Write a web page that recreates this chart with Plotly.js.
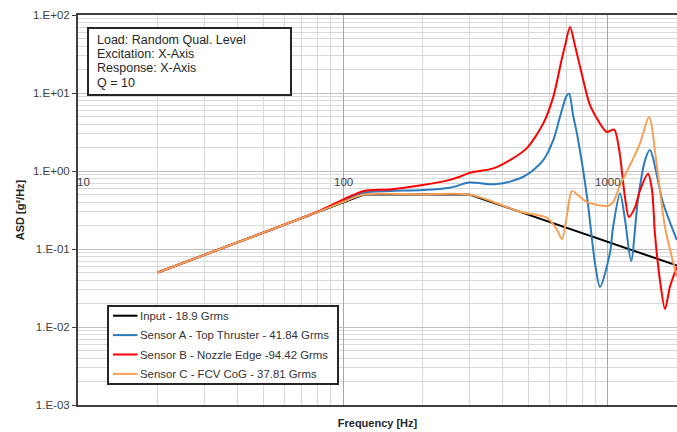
<!DOCTYPE html>
<html>
<head>
<meta charset="utf-8">
<script src="https://cdn.plot.ly/plotly-3.0.1.min.js"></script>
<style>
  html, body { margin: 0; padding: 0; background: #ffffff; }
  #chart { width: 677px; height: 432px; }
</style>
</head>
<body>
<div id="chart"></div>
<script>
// ---- data ----
const inputFreq = [20, 120, 300, 2000];
const inputAsd  = [0.05, 0.5, 0.5, 0.055];

const sensorAFreq = [20, 50, 80, 100, 120, 150, 200, 253, 300, 369, 427, 493, 570, 622, 659, 699, 714, 738, 764, 834, 893, 933, 1017, 1045, 1110, 1160, 1222, 1297, 1380, 1439, 1614, 1820];
const sensorAAsd  = [0.05, 0.162, 0.297, 0.41, 0.53, 0.555, 0.57, 0.61, 0.71, 0.675, 0.73, 0.89, 1.38, 2.5, 4.97, 9.3, 9.8, 5.2, 3.0, 0.46, 0.066, 0.0326, 0.089, 0.19, 0.52, 0.235, 0.070, 0.425, 1.38, 1.86, 0.389, 0.13];

const sensorBFreq = [20, 50, 80, 100, 120, 150, 200, 253, 276, 301, 369, 427, 493, 570, 622, 668, 689, 719, 750, 798, 855, 957, 991, 1055, 1101, 1159, 1199, 1265, 1322, 1416, 1466, 1503, 1570, 1641, 1714, 1820];
const sensorBAsd  = [0.05, 0.162, 0.30, 0.43, 0.555, 0.58, 0.66, 0.77, 0.845, 0.95, 1.08, 1.38, 1.95, 4.08, 8.98, 26.5, 41, 70, 41, 17, 7.0, 3.56, 3.16, 3.4, 1.9, 0.46, 0.257, 0.345, 0.57, 0.92, 0.57, 0.16, 0.040, 0.017, 0.033, 0.059];

const sensorCFreq = [20, 50, 80, 100, 120, 200, 300, 466, 589, 643, 670, 700, 731, 770, 834, 991, 1045, 1110, 1186, 1322, 1428, 1531, 1641, 1820];
const sensorCAsd  = [0.05, 0.162, 0.297, 0.40, 0.5, 0.5, 0.5, 0.30, 0.25, 0.175, 0.134, 0.27, 0.555, 0.49, 0.40, 0.356, 0.40, 0.66, 1.03, 2.28, 4.92, 1.12, 0.19, 0.044];

const seriesNames = [
  "Input - 18.9 Grms",
  "Sensor A - Top Thruster - 41.84 Grms",
  "Sensor B - Nozzle Edge -94.42 Grms",
  "Sensor C - FCV CoG - 37.81 Grms"
];
const seriesColors = ["#000000", "#2B7BBE", "#FF0000", "#F7A055"];

const yTickVals  = [0.001, 0.01, 0.1, 1, 10, 100];
const yTickText  = ["1.E-03", "1.E-02", "1.E-01", "1.E+00", "1.E+01", "1.E+02"];
const xTickVals  = [10, 100, 1000];
const xTickText  = ["10", "100", "1000"];

const infoLines = ["Load: Random Qual. Level", "Excitation: X-Axis", "Response: X-Axis", "Q = 10"];

// ---- chart ----
const FONT = "Liberation Sans, Arial, sans-serif";
const W = 677, H = 432, ML = 78, MR = 0, MT = 15, MB = 27;
const PW = W - ML - MR, PH = H - MT - MB;
const px = v => (v - ML) / PW;          // pixel x -> paper x
const py = v => (H - MB - v) / PH;      // pixel y -> paper y

const xs = [inputFreq, sensorAFreq, sensorBFreq, sensorCFreq];
const ys = [inputAsd, sensorAAsd, sensorBAsd, sensorCAsd];

const traces = xs.map((x, i) => ({
  type: "scatter",
  mode: "lines",
  x: x,
  y: ys[i],
  name: seriesNames[i],
  line: { color: seriesColors[i], width: 2, shape: i === 0 ? "linear" : "spline", smoothing: 0.8 }
}));

const annotations = xTickVals.map((v, i) => ({
  x: Math.log10(v), y: 0, xref: "x", yref: "y",
  text: xTickText[i], showarrow: false,
  xanchor: "center", yanchor: "top", yshift: -3, xshift: i === 0 ? 5 : 0,
  font: { family: FONT, size: 11.5, color: "#404040" }
}));

const shapes = [];
// info box
shapes.push({ type: "rect", xref: "paper", yref: "paper",
  x0: px(88), x1: px(291), y0: py(95), y1: py(28),
  line: { color: "#262626", width: 2 }, fillcolor: "#ffffff" });
infoLines.forEach((t, i) => annotations.push({
  x: px(95), y: py(39.5 + 14.5 * i), xref: "paper", yref: "paper",
  xanchor: "left", yanchor: "middle", showarrow: false, text: t,
  font: { family: FONT, size: 12.5, color: "#262626" }
}));

// legend box
shapes.push({ type: "rect", xref: "paper", yref: "paper",
  x0: px(108), x1: px(338), y0: py(384), y1: py(306),
  line: { color: "#262626", width: 2 }, fillcolor: "#ffffff" });
seriesNames.forEach((n, i) => {
  const yy = py(315.7 + 19.4 * i);
  shapes.push({ type: "line", xref: "paper", yref: "paper",
    x0: px(113), x1: px(137.5), y0: yy, y1: yy,
    line: { color: seriesColors[i], width: 2 } });
  annotations.push({ x: px(137.5), y: yy, xref: "paper", yref: "paper",
    xanchor: "left", yanchor: "middle", showarrow: false, text: n,
    font: { family: FONT, size: 11.4, color: "#333333" } });
});

const layout = {
  width: W, height: H,
  margin: { l: ML, r: MR, t: MT, b: MB },
  paper_bgcolor: "#ffffff", plot_bgcolor: "#ffffff",
  font: { family: FONT, size: 11, color: "#404040" },
  showlegend: false,
  xaxis: {
    type: "log", range: [1, 3.2604],
    showticklabels: false, ticks: "",
    showline: true, mirror: true, linecolor: "#404040", linewidth: 2,
    showgrid: true, gridcolor: "#a6a6a6", gridwidth: 1,
    tickvals: xTickVals,
    minor: { dtick: "D1", showgrid: true, gridcolor: "#d9d9d9", gridwidth: 1, ticks: "" },
    zeroline: false,
    title: { text: "<b>Frequency [Hz]</b>", font: { family: FONT, size: 11, color: "#262626" }, standoff: 13 }
  },
  yaxis: {
    type: "log", range: [-3, 2],
    tickvals: yTickVals, ticktext: yTickText,
    ticks: "outside", ticklen: 4, tickcolor: "#404040",
    tickfont: { family: FONT, size: 11.5, color: "#404040" },
    showline: true, mirror: false, linecolor: "#404040", linewidth: 2,
    showgrid: true, gridcolor: "#bfbfbf", gridwidth: 1,
    minor: { dtick: "D1", showgrid: true, gridcolor: "#d9d9d9", gridwidth: 1, ticks: "" },
    zeroline: false,
    title: { text: "<b>ASD [g²/Hz]</b>", font: { family: FONT, size: 11, color: "#262626" }, standoff: 6 }
  },
  shapes: shapes,
  annotations: annotations
};

Plotly.newPlot("chart", traces, layout, { displayModeBar: false, staticPlot: true });
</script>
</body>
</html>
